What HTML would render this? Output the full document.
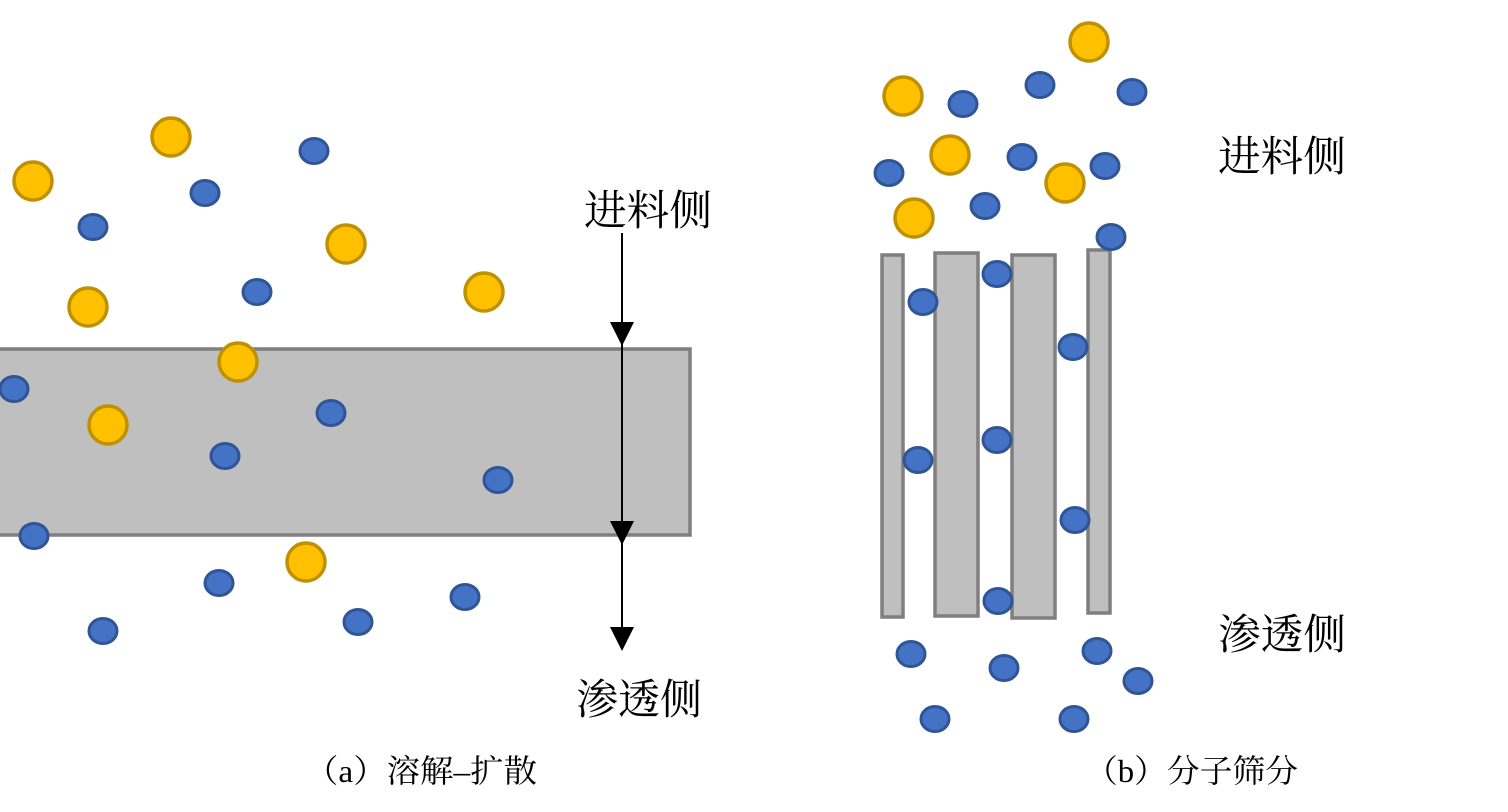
<!DOCTYPE html>
<html><head><meta charset="utf-8"><style>
body{margin:0;background:#fff;}
svg{display:block}
text{font-family:"Liberation Serif","Noto Serif CJK SC",serif;fill:#000}
</style></head><body>
<svg width="1508" height="812" viewBox="0 0 1508 812">
<defs>
<g id="b"><ellipse rx="14" ry="12.5" fill="#4472C4" stroke="#2F5597" stroke-width="3"/></g>
<g id="y"><circle r="19" fill="#FFC000" stroke="#BF9000" stroke-width="3.5"/></g>
</defs>
<rect x="-2" y="349" width="692" height="186" fill="#BFBFBF" stroke="#7F7F7F" stroke-width="3.5"/>
<line x1="622" y1="233" x2="622" y2="630" stroke="#000" stroke-width="2"/>
<polygon points="610,322 634,322 622,346" fill="#000"/>
<polygon points="610,521 634,521 622,545" fill="#000"/>
<polygon points="610,627 634,627 622,651" fill="#000"/>
<g>
<use href="#y" x="33" y="181"/><use href="#y" x="171" y="137"/><use href="#y" x="346" y="244"/><use href="#y" x="88" y="307"/><use href="#y" x="484" y="292"/><use href="#y" x="238" y="362"/><use href="#y" x="108" y="425"/><use href="#y" x="306" y="562"/>
<use href="#b" x="93" y="227"/><use href="#b" x="205" y="193"/><use href="#b" x="314" y="151"/><use href="#b" x="257" y="292"/><use href="#b" x="14" y="389"/><use href="#b" x="331" y="413"/><use href="#b" x="225" y="456"/><use href="#b" x="498" y="480"/><use href="#b" x="34" y="536"/><use href="#b" x="219" y="583"/><use href="#b" x="103" y="631"/><use href="#b" x="358" y="622"/><use href="#b" x="465" y="597"/>
</g>
<g fill="#BFBFBF" stroke="#7F7F7F" stroke-width="3.5">
<rect x="882" y="255" width="21" height="362"/>
<rect x="935" y="253" width="43" height="363"/>
<rect x="1012" y="255" width="43" height="363"/>
<rect x="1088" y="250" width="22" height="363"/>
</g>
<g>
<use href="#y" x="1089" y="42"/><use href="#y" x="903" y="96"/><use href="#y" x="950" y="155"/><use href="#y" x="1065" y="183"/><use href="#y" x="914" y="218"/>
<use href="#b" x="963" y="104"/><use href="#b" x="1040" y="85"/><use href="#b" x="1132" y="92"/><use href="#b" x="889" y="173"/><use href="#b" x="1022" y="157"/><use href="#b" x="1105" y="166"/><use href="#b" x="985" y="206"/><use href="#b" x="1111" y="237"/><use href="#b" x="923" y="302"/><use href="#b" x="997" y="274"/><use href="#b" x="1073" y="347"/><use href="#b" x="918" y="460"/><use href="#b" x="997" y="440"/><use href="#b" x="1075" y="520"/><use href="#b" x="998" y="601"/><use href="#b" x="911" y="654"/><use href="#b" x="1004" y="668"/><use href="#b" x="1097" y="651"/><use href="#b" x="1138" y="681"/><use href="#b" x="935" y="719"/><use href="#b" x="1074" y="719"/>
</g>
<text x="584" y="225" font-size="42" textLength="128" lengthAdjust="spacingAndGlyphs">进料侧</text>
<text x="576" y="714" font-size="42" textLength="126" lengthAdjust="spacingAndGlyphs">渗透侧</text>
<text x="1218" y="171" font-size="42" textLength="128" lengthAdjust="spacingAndGlyphs">进料侧</text>
<text x="1218" y="649" font-size="42" textLength="128" lengthAdjust="spacingAndGlyphs">渗透侧</text>
<text x="305" y="782" font-size="32" textLength="232" lengthAdjust="spacingAndGlyphs">（a）溶解–扩散</text>
<text x="1085" y="782" font-size="32" textLength="213" lengthAdjust="spacingAndGlyphs">（b）分子筛分</text>
</svg>
</body></html>
